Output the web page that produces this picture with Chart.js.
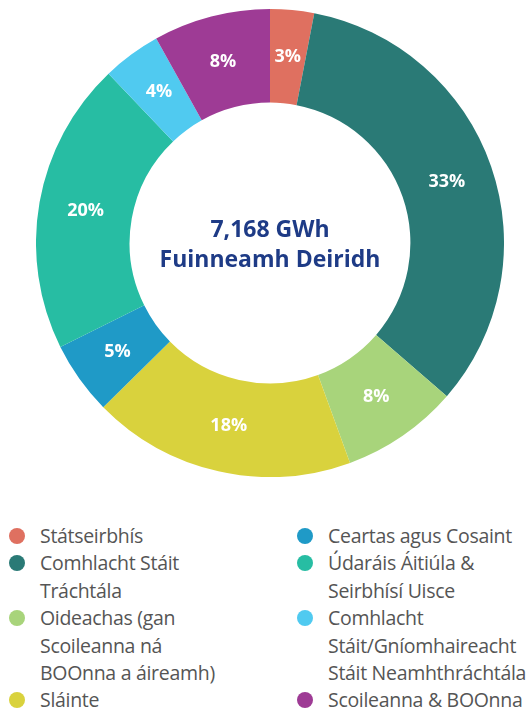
<!DOCTYPE html>
<html>
<head>
<meta charset="utf-8">
<script src="https://cdn.jsdelivr.net/npm/chart.js@4/dist/chart.umd.min.js"></script>
<style>
  html, body { margin: 0; padding: 0; background: #fff; }
  body { width: 532px; height: 711px; position: relative; overflow: hidden; font-family: 'Open Sans', sans-serif; }
  #wrap { position: absolute; left: 36px; top: 9px; width: 468px; height: 468px; }
  .legend { position: absolute; top: 522px; margin: 0; padding: 0; list-style: none; }
  .legend li { position: relative; padding-left: 31px; font-size: 19.5px; line-height: 27.4px; color: #555; white-space: pre-line; letter-spacing: -0.3px; }
  .legend li span { position: absolute; left: 0; top: 6px; width: 16px; height: 16px; border-radius: 50%; }
  #legL { left: 9px; }
  #legR { left: 297px; }
</style>
</head>
<body>
<div id="wrap"><canvas id="donut" width="468" height="468"></canvas></div>
<ul class="legend" id="legL"></ul>
<ul class="legend" id="legR"></ul>
<script>
const categories = [
  'Státseirbhís',
  'Comhlacht Stáit\nTráchtála',
  'Oideachas (gan\nScoileanna ná\nBOOnna a áireamh)',
  'Sláinte',
  'Ceartas agus Cosaint',
  'Údaráis Áitiúla &\nSeirbhísí Uisce',
  'Comhlacht\nStáit/Gníomhaireacht\nStáit Neamhthráchtála',
  'Scoileanna & BOOnna'
];
const shares = [3, 33, 8, 18, 5, 20, 4, 8];
const colors = ['#df7060', '#2a7a76', '#a8d47b', '#d9d23d', '#1f9ac7', '#27bda3', '#50caf0', '#9e3b95'];
const centerLines = ['7,168 GWh', 'Fuinneamh Deiridh'];

// percent labels in the middle of each ring segment
const sliceLabels = {
  id: 'sliceLabels',
  afterDatasetsDraw(chart) {
    const ctx = chart.ctx;
    const meta = chart.getDatasetMeta(0);
    ctx.save();
    ctx.fillStyle = '#ffffff';
    ctx.font = "bold 18px 'Open Sans'";
    ctx.textAlign = 'center';
    ctx.textBaseline = 'middle';
    meta.data.forEach((arc, i) => {
      const p = arc.tooltipPosition();
      ctx.fillText(shares[i] + '%', p.x, p.y);
    });
    ctx.restore();
  }
};

const centerText = {
  id: 'centerText',
  afterDraw(chart) {
    const ctx = chart.ctx;
    const arc = chart.getDatasetMeta(0).data[0];
    ctx.save();
    ctx.fillStyle = '#1e3b86';
    ctx.font = "bold 23px 'Open Sans'";
    ctx.textAlign = 'center';
    ctx.textBaseline = 'alphabetic';
    ctx.fillText(centerLines[0], arc.x, arc.y - 6);
    ctx.fillText(centerLines[1], arc.x, arc.y + 24);
    ctx.restore();
  }
};

new Chart(document.getElementById('donut').getContext('2d'), {
  type: 'doughnut',
  data: {
    labels: categories,
    datasets: [{
      data: shares,
      backgroundColor: colors,
      borderWidth: 0
    }]
  },
  options: {
    responsive: false,
    animation: false,
    cutout: '60%',
    layout: { padding: 0 },
    plugins: {
      legend: { display: false },
      tooltip: { enabled: false }
    }
  },
  plugins: [sliceLabels, centerText]
});

// two-column legend, filled column by column
const half = Math.ceil(categories.length / 2);
categories.forEach((name, i) => {
  const li = document.createElement('li');
  const dot = document.createElement('span');
  dot.style.background = colors[i];
  li.appendChild(dot);
  li.appendChild(document.createTextNode(name));
  document.getElementById(i < half ? 'legL' : 'legR').appendChild(li);
});
</script>
</body>
</html>
